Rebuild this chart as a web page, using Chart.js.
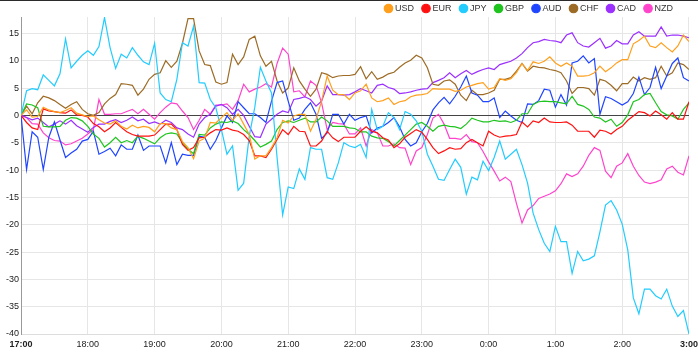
<!DOCTYPE html>
<html>
<head>
<meta charset="utf-8">
<script src="https://cdn.jsdelivr.net/npm/chart.js@4.4.1/dist/chart.umd.min.js"></script>
<style>
  html, body { margin: 0; padding: 0; background: #fff; }
  #wrap { position: relative; width: 698px; height: 353px; }
  #topbar { position: absolute; left: 0; top: 0; width: 698px; height: 1px; background: #2b2b2b; }
</style>
</head>
<body>
<div id="wrap">
  <canvas id="chart" width="698" height="353"></canvas>
  <div id="topbar"></div>
</div>
<script>
// hourly tick labels, one point every 5 minutes from 17:00 to 3:00
const hourLabels = ['17:00', '18:00', '19:00', '20:00', '21:00', '22:00', '23:00', '0:00', '1:00', '2:00', '3:00'];
const stepMinutes = 5;

const usd = [0, 1.0, -0.3, -0.2, 1.5, 1.0, 0.7, 0.5, 0.9, 1.4, 0.4, 0.1, -0.2, -0.1, -0.8, -1.4, -1.6, -1.0, -2.0, -2.5, -1.8, -2.3, -2.0, -2.2, -3.0,
  -1.5, -1.5, -2.3, -2.6, -4.8, -5.9, -7.9, -4.7, -4.2, -1.3, -1.4, -0.4, 0.5, -0.9, 0.3, -1.6, -3.5, -8.0, -7.4, -7.4, -5.9, -4.1, -0.9,
  -1.4, -0.1, 0.2, 0.2, -2.9, -0.7, 2.6, 7.2, 4.6, 3.8, 3.8, 2.9, 4.1, 4.5, 5.7, 3.2, 2.5, 2.7, 3.2, 2.0, 2.5, 2.7, 3.4, 3.7, 3.8,
  4.0, 4.9, 4.8, 4.8, 4.8, 4.4, 4.6, 5.2, 5.5, 5.8, 6.0, 4.8, 5.1, 6.7, 6.4, 6.7, 7.8, 9.5, 8.2, 9.8, 9.5, 9.9, 10.7,
  9.6, 9.0, 9.6, 9.0, 7.2, 7.2, 7.3, 7.8, 9.0, 8.0, 8.7, 9.6, 10.2, 10.2, 13.1, 13.7, 14.5, 12.7, 12.4, 13.3, 12.4, 11.6, 12.7, 14.7, 13.5];

const eur = [0, -1.3, -2.3, -2.6, 1.2, 0.8, 0.7, 0.5, 0.4, 1.0, 0.1, 0.0, -0.3, -1.5, -2.1, -3.0, -2.3, -1.3, -2.2, -3.0, -3.5, -3.8, -3.8, -3.8, -3.6,
  -2.6, -1.6, -1.6, -2.6, -5.3, -6.4, -5.9, -4.1, -4.0, -3.2, -2.6, -2.7, -2.3, -2.7, -2.9, -3.5, -4.6, -7.4, -7.4, -7.7, -6.2, -4.4, -2.6,
  -3.5, -2.0, -2.9, -3.0, -5.6, -5.6, -4.7, -2.9, -4.1, -4.8, -4.0, -4.0, -4.0, -2.9, -2.1, -2.9, -3.2, -4.1, -4.5, -5.9, -5.2, -4.0, -3.3, -2.6, -3.1,
  -4.4, -5.9, -7.0, -6.5, -5.9, -6.2, -6.1, -5.0, -4.4, -5.0, -5.6, -2.9, -3.6, -4.0, -3.8, -3.7, -3.5, -1.2, -2.1, -1.0, -1.3, -0.5, -1.2,
  -1.3, -1.3, -1.2, -1.8, -2.9, -2.9, -2.9, -4.0, -2.7, -2.9, -3.4, -2.6, -2.0, -0.9, -0.1, 0.7, 0.5, -0.1, 0.8, 0.1, -0.7, 0.5, -0.7, -0.7, 2.5];

const jpy = [0, 4.5, 4.9, 4.7, 7.4, 6.4, 5.4, 7.6, 14.0, 8.7, 9.9, 11.0, 11.8, 11.0, 12.6, 17.9, 12.4, 8.6, 11.2, 10.5, 12.4, 11.0, 9.8, 9.3, 13.2,
  4.1, 2.9, 2.5, 6.6, 13.3, 12.7, 16.3, 6.0, 5.9, 2.9, 1.4, -2.6, -7.1, -5.6, -13.7, -12.4, -3.8, 1.5, 8.8, 6.3, 4.1, -7.7, -18.2,
  -13.1, -13.4, -9.8, -11.7, -5.9, -6.2, -6.2, -11.4, -11.7, -8.7, -5.0, -5.6, -5.9, -5.3, -7.7, 1.1, -2.6, -2.0, 0.5, -0.4, -2.6, 0.7, 0.2, -1.0, -2.9,
  -7.1, -9.3, -11.7, -11.9, -9.9, -8.0, -9.5, -14.4, -11.3, -11.8, -8.4, -10.1, -7.7, -4.7, -8.0, -7.1, -6.2, -9.0, -12.4, -17.9, -20.9, -23.4, -24.9,
  -20.3, -23.1, -23.1, -28.9, -24.9, -26.6, -26.3, -25.7, -21.3, -16.4, -15.6, -17.3, -19.9, -24.6, -33.4, -36.3, -31.8, -31.8, -33.0, -33.6, -31.8, -34.9, -36.8, -35.7, -40.0];

const gbp = [0, 2.1, 1.9, 1.4, -2.0, -2.1, -2.1, -2.0, -0.9, -0.4, -0.5, -1.0, -2.0, -3.4, -4.2, -5.8, -5.0, -4.0, -5.0, -4.6, -5.0, -3.8, -4.2, -4.7, -5.2,
  -4.1, -3.4, -3.2, -3.4, -5.0, -6.2, -7.0, -3.5, -3.6, -2.3, -1.6, -1.2, -1.3, -1.0, -1.5, -2.6, -3.5, -4.6, -5.8, -5.3, -4.7, -2.6, -1.3,
  -1.0, -1.3, -0.9, -0.5, -1.2, -1.2, -0.3, -1.0, -2.0, -2.0, -2.0, -2.3, -2.4, -3.0, -3.0, -3.8, -4.1, -4.2, -4.8, -5.6, -4.6, -3.6, -2.6, -1.6, -1.3,
  -2.0, -2.9, -2.0, -1.8, -2.0, -2.1, -2.4, -1.6, -0.5, -0.9, -1.2, -1.2, -0.9, -1.1, -1.0, -1.3, -0.9, 0.3, 0.3, 2.0, 2.5, 2.6, 2.5,
  2.5, 2.3, 2.1, 3.5, 2.0, 1.7, 1.1, -0.3, -0.5, -1.2, -0.7, -2.0, -1.3, 0.1, 2.5, 2.9, 3.8, 4.0, 2.3, 0.7, 0.1, -0.1, -0.7, 1.1, 2.3];

const aud = [0, -9.9, -3.0, -4.0, -9.9, -4.0, -1.2, -4.5, -7.7, -6.9, -6.2, -4.7, -4.4, -2.9, -7.1, -6.6, -6.0, -7.4, -5.4, -6.2, -6.2, -3.6, -6.4, -5.6, -5.6,
  -5.6, -8.7, -5.0, -9.0, -7.1, -7.3, -7.3, -3.8, -4.0, -6.2, -4.6, -2.3, -0.1, -1.3, 2.5, 1.4, 0.3, 0.3, -0.4, -1.3, 2.6, 6.0, 6.3,
  2.6, -0.9, -0.5, 1.1, 2.3, 0.2, -4.2, -3.2, 0.2, 0.2, -1.6, 0.2, -0.9, -0.4, -0.1, -3.2, -2.3, -2.0, -1.3, -0.4, -2.1, -4.4, -5.6, -5.0, -3.0,
  -1.5, 1.0, 2.3, 3.3, 2.1, 3.5, 5.2, 7.2, 4.1, 3.7, 2.5, 2.5, 3.2, -0.4, 0.8, -0.1, -0.9, -1.3, 2.1, 2.0, 2.7, 4.8, 4.6,
  1.5, 3.8, 1.9, 9.6, 9.9, 10.9, 9.6, 10.4, 0.2, 3.4, 3.1, 2.5, 1.9, 2.5, 4.0, 7.0, 3.8, 5.1, 8.8, 4.9, 7.2, 9.5, 10.5, 6.9, 6.3];

const chf = [0, 1.7, 0.3, 2.3, 3.5, 3.2, 2.7, 2.0, 1.3, 2.0, 2.5, 1.1, 0.3, 0.0, 0.5, 2.1, 3.1, 3.8, 5.8, 5.7, 5.5, 3.7, 4.8, 6.6, 7.5,
  7.8, 10.0, 8.8, 9.9, 13.2, 17.7, 17.7, 11.8, 9.3, 9.1, 6.1, 5.7, 6.0, 11.2, 9.3, 10.7, 13.9, 14.5, 10.9, 9.0, 9.9, 6.3, 4.1,
  5.0, 8.7, 6.3, 4.8, 3.5, 4.8, 7.8, 7.5, 6.9, 7.2, 7.3, 7.3, 7.5, 8.9, 6.7, 8.0, 6.6, 7.0, 7.6, 7.9, 8.8, 9.6, 10.1, 11.0, 10.5,
  8.7, 5.7, 5.5, 6.3, 6.5, 5.7, 3.7, 2.7, 4.6, 3.8, 3.8, 4.1, 4.6, 6.6, 6.6, 6.9, 8.1, 9.5, 8.1, 9.0, 8.8, 8.7, 8.4,
  8.2, 7.8, 6.3, 4.0, 5.1, 5.1, 4.9, 3.7, 6.6, 6.3, 5.5, 4.5, 5.8, 5.8, 7.0, 6.3, 6.9, 6.6, 6.9, 9.0, 7.2, 7.8, 9.6, 9.3, 8.4];

const cad = [0, -0.4, -0.8, -0.5, -1.3, -2.1, -1.6, -1.0, -1.6, -0.9, -1.9, -2.5, -3.1, -2.2, -1.6, -1.6, -1.1, -0.8, -1.3, -0.9, -0.3, -1.0, -0.7, -1.5, -1.2,
  -1.6, -0.9, -1.3, -2.3, -2.6, -3.4, -4.0, -1.6, -0.4, 0.2, 1.7, 2.0, 1.4, 0.2, 1.1, 0.0, -2.0, -3.9, -4.0, -1.6, -0.7, 0.2, 0.8,
  0.5, 2.9, 3.1, 3.4, 2.9, 1.7, 2.6, 5.4, 3.8, 3.8, 3.7, 3.8, 4.3, 4.9, 4.5, 4.1, 5.5, 5.7, 5.1, 4.8, 4.0, 4.1, 4.3, 4.6, 4.8,
  4.9, 6.0, 6.4, 6.9, 7.8, 6.9, 7.6, 8.2, 7.5, 8.0, 8.4, 8.7, 8.4, 9.3, 9.6, 9.9, 10.5, 11.3, 12.4, 13.3, 13.5, 13.9, 13.7,
  13.6, 13.3, 14.7, 15.1, 13.3, 12.7, 12.5, 13.3, 14.1, 12.3, 12.7, 13.7, 13.1, 13.1, 14.7, 15.3, 14.5, 14.5, 14.5, 16.2, 14.5, 14.7, 14.7, 14.5, 14.2];

const nzd = [0, -0.4, -1.5, -1.6, -3.2, -4.1, -4.6, -4.7, -5.4, -5.2, -4.7, -4.2, -3.4, -2.6, 2.9, 0.2, 0.2, 0.3, 0.3, 0.7, 1.1, 0.3, 1.1, 0.2, -0.7,
  0.5, 1.5, 2.3, 2.1, 0.8, -0.4, -2.6, -0.9, 1.1, 0.2, 1.9, 1.9, 2.1, 1.1, 2.7, 5.7, 4.3, 4.8, 5.2, 5.8, 5.2, 9.5, 12.3,
  11.2, 4.3, 4.5, 3.4, 6.3, 5.5, 2.3, -2.6, -1.3, -1.5, -1.6, -3.4, -3.4, -2.3, -5.6, -2.6, -3.2, -5.6, -5.6, -5.2, -5.9, -6.0, -9.0, -6.5, -5.9,
  -3.5, -0.5, 0.2, -1.6, -4.2, -4.2, -4.4, -3.5, -4.8, -5.0, -6.6, -8.5, -10.2, -12.0, -11.3, -12.1, -16.1, -19.7, -17.3, -16.5, -15.2, -14.8, -14.4,
  -13.8, -12.5, -10.7, -11.2, -10.7, -9.3, -7.3, -5.9, -6.4, -10.2, -11.4, -9.3, -8.7, -7.0, -9.3, -11.0, -12.2, -12.5, -12.2, -11.8, -9.8, -9.3, -10.4, -10.9, -7.4];

const series = [
  { label: 'USD', data: usd, color: '#ff9f1c' },
  { label: 'EUR', data: eur, color: '#ff1111' },
  { label: 'JPY', data: jpy, color: '#22ccff' },
  { label: 'GBP', data: gbp, color: '#1fc41f' },
  { label: 'AUD', data: aud, color: '#1f45ff' },
  { label: 'CHF', data: chf, color: '#9c6b25' },
  { label: 'CAD', data: cad, color: '#9b30ff' },
  { label: 'NZD', data: nzd, color: '#ff44cc' },
];

Chart.defaults.font.family = '"Liberation Sans", Arial, sans-serif';
Chart.defaults.font.size = 9;
Chart.defaults.color = '#333';

// legend sits in a thin strip above the plot, ending a little short of the right edge
const legendStrip = {
  id: 'legendStrip',
  afterInit(chart) {
    const lg = chart.legend;
    const fit = lg.fit;
    lg.fit = function () { fit.call(this); this.height = 17; };
  },
  beforeDraw(chart) {
    chart.legend.top = -6;
    chart.legend.right = chart.width - 15;
  }
};

new Chart(document.getElementById('chart'), {
  type: 'line',
  data: {
    datasets: series.map(s => ({
      label: s.label,
      data: s.data.map((v, i) => ({ x: i * stepMinutes, y: v })),
      borderColor: s.color,
      backgroundColor: s.color,
      borderWidth: 1.2,
      pointRadius: 0,
      tension: 0,
    }))
  },
  options: {
    responsive: false,
    animation: false,
    devicePixelRatio: 1,
    layout: { padding: { left: 4, bottom: 3.2 } },
    plugins: {
      legend: {
        align: 'end',
        labels: { usePointStyle: true, pointStyle: 'circle', boxWidth: 4, boxHeight: 6, padding: 10, color: '#333' }
      },
      tooltip: { enabled: false }
    },
    scales: {
      x: {
        type: 'linear',
        min: 0,
        max: (hourLabels.length - 1) * 60,
        grid: { color: '#e6e6e6', drawTicks: true, tickLength: 5, tickColor: 'rgba(0,0,0,0)' },
        border: { color: '#dddddd' },
        ticks: {
          stepSize: 60,
          padding: 0,
          maxRotation: 0,
          color: '#222',
          font: ctx => ({ size: 9, weight: (ctx.index === 0 || ctx.index === hourLabels.length - 1) ? 'bold' : 'normal' }),
          callback: v => hourLabels[v / 60]
        }
      },
      y: {
        min: -40,
        max: 18,
        grid: {
          drawTicks: false,
          color: ctx => ctx.tick && ctx.tick.value === 0 ? '#444' : '#e6e6e6'
        },
        border: { color: '#999' },
        ticks: { stepSize: 5, includeBounds: false, padding: 2, color: '#222' }
      }
    }
  },
  plugins: [legendStrip]
});
</script>
</body>
</html>
